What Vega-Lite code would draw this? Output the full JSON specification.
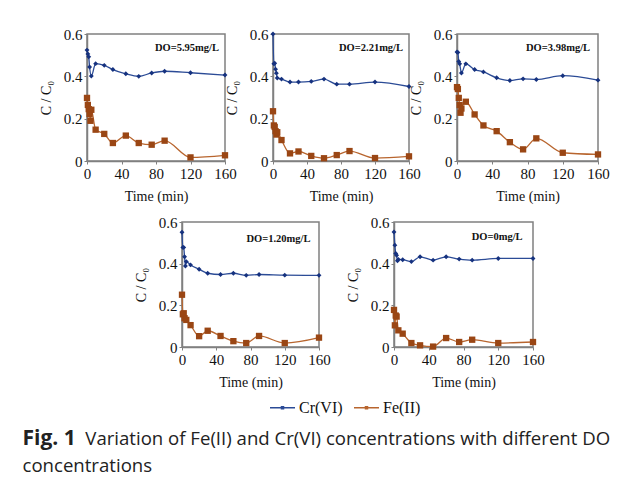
{
  "$schema": "https://vega.github.io/schema/vega-lite/v6.json",
  "background": "white",
  "padding": {"left": 22, "top": 26, "right": 5, "bottom": 5},
  "datasets": {
    "d": [
      {"p": 1, "s": "Cr(VI)", "t": 0, "c": 0.524},
      {"p": 1, "s": "Cr(VI)", "t": 1, "c": 0.506},
      {"p": 1, "s": "Cr(VI)", "t": 2, "c": 0.492},
      {"p": 1, "s": "Cr(VI)", "t": 3, "c": 0.444},
      {"p": 1, "s": "Cr(VI)", "t": 5, "c": 0.401},
      {"p": 1, "s": "Cr(VI)", "t": 10, "c": 0.46},
      {"p": 1, "s": "Cr(VI)", "t": 20, "c": 0.452},
      {"p": 1, "s": "Cr(VI)", "t": 30, "c": 0.432},
      {"p": 1, "s": "Cr(VI)", "t": 45, "c": 0.412},
      {"p": 1, "s": "Cr(VI)", "t": 60, "c": 0.4},
      {"p": 1, "s": "Cr(VI)", "t": 75, "c": 0.416},
      {"p": 1, "s": "Cr(VI)", "t": 90, "c": 0.424},
      {"p": 1, "s": "Cr(VI)", "t": 120, "c": 0.417},
      {"p": 1, "s": "Cr(VI)", "t": 160, "c": 0.406},
      {"p": 1, "s": "Fe(II)", "t": 0, "c": 0.298},
      {"p": 1, "s": "Fe(II)", "t": 1, "c": 0.265},
      {"p": 1, "s": "Fe(II)", "t": 2, "c": 0.245},
      {"p": 1, "s": "Fe(II)", "t": 3, "c": 0.222},
      {"p": 1, "s": "Fe(II)", "t": 4, "c": 0.19},
      {"p": 1, "s": "Fe(II)", "t": 5, "c": 0.242},
      {"p": 1, "s": "Fe(II)", "t": 10, "c": 0.148},
      {"p": 1, "s": "Fe(II)", "t": 20, "c": 0.128},
      {"p": 1, "s": "Fe(II)", "t": 30, "c": 0.085},
      {"p": 1, "s": "Fe(II)", "t": 45, "c": 0.12},
      {"p": 1, "s": "Fe(II)", "t": 60, "c": 0.085},
      {"p": 1, "s": "Fe(II)", "t": 75, "c": 0.077},
      {"p": 1, "s": "Fe(II)", "t": 90, "c": 0.096},
      {"p": 1, "s": "Fe(II)", "t": 120, "c": 0.017},
      {"p": 1, "s": "Fe(II)", "t": 160, "c": 0.027},

      {"p": 2, "s": "Cr(VI)", "t": 0, "c": 0.6},
      {"p": 2, "s": "Cr(VI)", "t": 1, "c": 0.459},
      {"p": 2, "s": "Cr(VI)", "t": 2, "c": 0.462},
      {"p": 2, "s": "Cr(VI)", "t": 3, "c": 0.434},
      {"p": 2, "s": "Cr(VI)", "t": 4, "c": 0.415},
      {"p": 2, "s": "Cr(VI)", "t": 5, "c": 0.392},
      {"p": 2, "s": "Cr(VI)", "t": 10, "c": 0.387},
      {"p": 2, "s": "Cr(VI)", "t": 20, "c": 0.373},
      {"p": 2, "s": "Cr(VI)", "t": 30, "c": 0.373},
      {"p": 2, "s": "Cr(VI)", "t": 45, "c": 0.376},
      {"p": 2, "s": "Cr(VI)", "t": 60, "c": 0.387},
      {"p": 2, "s": "Cr(VI)", "t": 75, "c": 0.363},
      {"p": 2, "s": "Cr(VI)", "t": 90, "c": 0.363},
      {"p": 2, "s": "Cr(VI)", "t": 120, "c": 0.373},
      {"p": 2, "s": "Cr(VI)", "t": 160, "c": 0.352},
      {"p": 2, "s": "Fe(II)", "t": 0, "c": 0.235},
      {"p": 2, "s": "Fe(II)", "t": 1, "c": 0.168},
      {"p": 2, "s": "Fe(II)", "t": 2, "c": 0.161},
      {"p": 2, "s": "Fe(II)", "t": 3, "c": 0.141},
      {"p": 2, "s": "Fe(II)", "t": 4, "c": 0.125},
      {"p": 2, "s": "Fe(II)", "t": 5, "c": 0.136},
      {"p": 2, "s": "Fe(II)", "t": 10, "c": 0.099},
      {"p": 2, "s": "Fe(II)", "t": 20, "c": 0.036},
      {"p": 2, "s": "Fe(II)", "t": 30, "c": 0.045},
      {"p": 2, "s": "Fe(II)", "t": 45, "c": 0.024},
      {"p": 2, "s": "Fe(II)", "t": 60, "c": 0.013},
      {"p": 2, "s": "Fe(II)", "t": 75, "c": 0.028},
      {"p": 2, "s": "Fe(II)", "t": 90, "c": 0.047},
      {"p": 2, "s": "Fe(II)", "t": 120, "c": 0.014},
      {"p": 2, "s": "Fe(II)", "t": 160, "c": 0.022},

      {"p": 3, "s": "Cr(VI)", "t": 0, "c": 0.515},
      {"p": 3, "s": "Cr(VI)", "t": 1, "c": 0.513},
      {"p": 3, "s": "Cr(VI)", "t": 2, "c": 0.47},
      {"p": 3, "s": "Cr(VI)", "t": 3, "c": 0.459},
      {"p": 3, "s": "Cr(VI)", "t": 5, "c": 0.416},
      {"p": 3, "s": "Cr(VI)", "t": 10, "c": 0.459},
      {"p": 3, "s": "Cr(VI)", "t": 20, "c": 0.432},
      {"p": 3, "s": "Cr(VI)", "t": 30, "c": 0.421},
      {"p": 3, "s": "Cr(VI)", "t": 45, "c": 0.393},
      {"p": 3, "s": "Cr(VI)", "t": 60, "c": 0.38},
      {"p": 3, "s": "Cr(VI)", "t": 75, "c": 0.388},
      {"p": 3, "s": "Cr(VI)", "t": 90, "c": 0.385},
      {"p": 3, "s": "Cr(VI)", "t": 120, "c": 0.403},
      {"p": 3, "s": "Cr(VI)", "t": 160, "c": 0.382},
      {"p": 3, "s": "Fe(II)", "t": 0, "c": 0.349},
      {"p": 3, "s": "Fe(II)", "t": 1, "c": 0.34},
      {"p": 3, "s": "Fe(II)", "t": 2, "c": 0.298},
      {"p": 3, "s": "Fe(II)", "t": 3, "c": 0.264},
      {"p": 3, "s": "Fe(II)", "t": 4, "c": 0.228},
      {"p": 3, "s": "Fe(II)", "t": 5, "c": 0.248},
      {"p": 3, "s": "Fe(II)", "t": 10, "c": 0.28},
      {"p": 3, "s": "Fe(II)", "t": 20, "c": 0.22},
      {"p": 3, "s": "Fe(II)", "t": 30, "c": 0.168},
      {"p": 3, "s": "Fe(II)", "t": 45, "c": 0.141},
      {"p": 3, "s": "Fe(II)", "t": 60, "c": 0.089},
      {"p": 3, "s": "Fe(II)", "t": 75, "c": 0.055},
      {"p": 3, "s": "Fe(II)", "t": 90, "c": 0.107},
      {"p": 3, "s": "Fe(II)", "t": 120, "c": 0.039},
      {"p": 3, "s": "Fe(II)", "t": 160, "c": 0.031},

      {"p": 4, "s": "Cr(VI)", "t": 0, "c": 0.551},
      {"p": 4, "s": "Cr(VI)", "t": 1, "c": 0.478},
      {"p": 4, "s": "Cr(VI)", "t": 2, "c": 0.478},
      {"p": 4, "s": "Cr(VI)", "t": 3, "c": 0.433},
      {"p": 4, "s": "Cr(VI)", "t": 4, "c": 0.389},
      {"p": 4, "s": "Cr(VI)", "t": 5, "c": 0.41},
      {"p": 4, "s": "Cr(VI)", "t": 10, "c": 0.394},
      {"p": 4, "s": "Cr(VI)", "t": 20, "c": 0.373},
      {"p": 4, "s": "Cr(VI)", "t": 30, "c": 0.354},
      {"p": 4, "s": "Cr(VI)", "t": 45, "c": 0.348},
      {"p": 4, "s": "Cr(VI)", "t": 60, "c": 0.354},
      {"p": 4, "s": "Cr(VI)", "t": 75, "c": 0.344},
      {"p": 4, "s": "Cr(VI)", "t": 90, "c": 0.348},
      {"p": 4, "s": "Cr(VI)", "t": 120, "c": 0.345},
      {"p": 4, "s": "Cr(VI)", "t": 160, "c": 0.344},
      {"p": 4, "s": "Fe(II)", "t": 0, "c": 0.251},
      {"p": 4, "s": "Fe(II)", "t": 1, "c": 0.157},
      {"p": 4, "s": "Fe(II)", "t": 2, "c": 0.162},
      {"p": 4, "s": "Fe(II)", "t": 3, "c": 0.138},
      {"p": 4, "s": "Fe(II)", "t": 5, "c": 0.13},
      {"p": 4, "s": "Fe(II)", "t": 10, "c": 0.105},
      {"p": 4, "s": "Fe(II)", "t": 20, "c": 0.052},
      {"p": 4, "s": "Fe(II)", "t": 30, "c": 0.078},
      {"p": 4, "s": "Fe(II)", "t": 45, "c": 0.053},
      {"p": 4, "s": "Fe(II)", "t": 60, "c": 0.028},
      {"p": 4, "s": "Fe(II)", "t": 75, "c": 0.019},
      {"p": 4, "s": "Fe(II)", "t": 90, "c": 0.053},
      {"p": 4, "s": "Fe(II)", "t": 120, "c": 0.019},
      {"p": 4, "s": "Fe(II)", "t": 160, "c": 0.045},

      {"p": 5, "s": "Cr(VI)", "t": 0, "c": 0.552},
      {"p": 5, "s": "Cr(VI)", "t": 1, "c": 0.489},
      {"p": 5, "s": "Cr(VI)", "t": 2, "c": 0.449},
      {"p": 5, "s": "Cr(VI)", "t": 3, "c": 0.44},
      {"p": 5, "s": "Cr(VI)", "t": 4, "c": 0.414},
      {"p": 5, "s": "Cr(VI)", "t": 5, "c": 0.42},
      {"p": 5, "s": "Cr(VI)", "t": 10, "c": 0.419},
      {"p": 5, "s": "Cr(VI)", "t": 20, "c": 0.41},
      {"p": 5, "s": "Cr(VI)", "t": 30, "c": 0.433},
      {"p": 5, "s": "Cr(VI)", "t": 45, "c": 0.417},
      {"p": 5, "s": "Cr(VI)", "t": 60, "c": 0.433},
      {"p": 5, "s": "Cr(VI)", "t": 75, "c": 0.422},
      {"p": 5, "s": "Cr(VI)", "t": 90, "c": 0.417},
      {"p": 5, "s": "Cr(VI)", "t": 120, "c": 0.425},
      {"p": 5, "s": "Cr(VI)", "t": 160, "c": 0.425},
      {"p": 5, "s": "Fe(II)", "t": 0, "c": 0.178},
      {"p": 5, "s": "Fe(II)", "t": 1, "c": 0.104},
      {"p": 5, "s": "Fe(II)", "t": 2, "c": 0.151},
      {"p": 5, "s": "Fe(II)", "t": 3, "c": 0.146},
      {"p": 5, "s": "Fe(II)", "t": 5, "c": 0.08},
      {"p": 5, "s": "Fe(II)", "t": 10, "c": 0.064},
      {"p": 5, "s": "Fe(II)", "t": 20, "c": 0.019},
      {"p": 5, "s": "Fe(II)", "t": 30, "c": 0.008},
      {"p": 5, "s": "Fe(II)", "t": 45, "c": 0.002},
      {"p": 5, "s": "Fe(II)", "t": 60, "c": 0.043},
      {"p": 5, "s": "Fe(II)", "t": 75, "c": 0.024},
      {"p": 5, "s": "Fe(II)", "t": 90, "c": 0.035},
      {"p": 5, "s": "Fe(II)", "t": 120, "c": 0.019},
      {"p": 5, "s": "Fe(II)", "t": 160, "c": 0.024}
    ]
  },
  "title": {
    "text": "Fig. 1",
    "orient": "bottom",
    "anchor": "start",
    "frame": "bounds",
    "dx": -16,
    "offset": 12,
    "font": "Open Sans",
    "fontSize": 21,
    "fontWeight": "bold",
    "color": "#222222",
    "subtitle": ["\u200b\u00a0\u00a0\u00a0\u00a0\u00a0\u00a0\u00a0\u00a0\u00a0\u00a0\u00a0\u00a0\u00a0Variation of Fe(II) and Cr(VI) concentrations with different DO", "concentrations"],
    "subtitleFont": "Open Sans",
    "subtitleFontSize": 18.6,
    "subtitleColor": "#222222",
    "subtitlePadding": -19,
    "subtitleLineHeight": 27
  },
  "vconcat": [
    {
      "bounds": "flush",
      "spacing": 48,
      "hconcat": [
        {
          "width": 138, "height": 127,
          "data": {"name": "d"},
          "transform": [{"filter": "datum.p == 1"}],
          "encoding": {
            "x": {"field": "t", "type": "quantitative", "scale": {"domain": [0, 160]}, "axis": {"values": [0, 40, 80, 120, 160], "labelOverlap": false, "title": "Time (min)"}},
            "y": {"field": "c", "type": "quantitative", "scale": {"domain": [0, 0.6]}, "axis": {"values": [0, 0.2, 0.4, 0.6], "labelOverlap": false, "labelExpr": "datum.value == 0 ? '0' : format(datum.value, '.1f')", "title": "C / C\u2080"}}
          },
          "layer": [
            {"mark": {"type": "line", "interpolate": "monotone", "strokeWidth": 1.3},
             "encoding": {"color": {"field": "s", "type": "nominal", "scale": {"domain": ["Cr(VI)", "Fe(II)"], "range": ["#2b4b96", "#b8652e"]}, "legend": {"title": null}}}},
            {"transform": [{"filter": "datum.s == 'Cr(VI)'"}],
             "mark": {"type": "point", "filled": true, "opacity": 1, "shape": "diamond", "size": 24, "color": "#16327f"}},
            {"transform": [{"filter": "datum.s == 'Fe(II)'"}],
             "mark": {"type": "point", "filled": true, "opacity": 1, "shape": "square", "size": 40, "color": "#9a4614"}},
            {"data": {"values": [{"t": 153, "c": 0.535}]},
             "mark": {"type": "text", "align": "right", "baseline": "middle", "font": "Liberation Serif", "fontSize": 10.5, "fontWeight": "bold", "color": "#111111"},
             "encoding": {"text": {"value": "DO=5.95mg/L"}}}
          ]
        },
        {
          "width": 136, "height": 127,
          "data": {"name": "d"},
          "transform": [{"filter": "datum.p == 2"}],
          "encoding": {
            "x": {"field": "t", "type": "quantitative", "scale": {"domain": [0, 160]}, "axis": {"values": [0, 40, 80, 120, 160], "labelOverlap": false, "title": "Time (min)"}},
            "y": {"field": "c", "type": "quantitative", "scale": {"domain": [0, 0.6]}, "axis": {"values": [0, 0.2, 0.4, 0.6], "labelOverlap": false, "labelExpr": "datum.value == 0 ? '0' : format(datum.value, '.1f')", "title": "C / C\u2080"}}
          },
          "layer": [
            {"mark": {"type": "line", "interpolate": "monotone", "strokeWidth": 1.3},
             "encoding": {"color": {"field": "s", "type": "nominal", "legend": {"title": null}}}},
            {"transform": [{"filter": "datum.s == 'Cr(VI)'"}],
             "mark": {"type": "point", "filled": true, "opacity": 1, "shape": "diamond", "size": 24, "color": "#16327f"}},
            {"transform": [{"filter": "datum.s == 'Fe(II)'"}],
             "mark": {"type": "point", "filled": true, "opacity": 1, "shape": "square", "size": 40, "color": "#9a4614"}},
            {"data": {"values": [{"t": 153, "c": 0.535}]},
             "mark": {"type": "text", "align": "right", "baseline": "middle", "font": "Liberation Serif", "fontSize": 10.5, "fontWeight": "bold", "color": "#111111"},
             "encoding": {"text": {"value": "DO=2.21mg/L"}}}
          ]
        },
        {
          "width": 141, "height": 127,
          "data": {"name": "d"},
          "transform": [{"filter": "datum.p == 3"}],
          "encoding": {
            "x": {"field": "t", "type": "quantitative", "scale": {"domain": [0, 160]}, "axis": {"values": [0, 40, 80, 120, 160], "labelOverlap": false, "title": "Time (min)"}},
            "y": {"field": "c", "type": "quantitative", "scale": {"domain": [0, 0.6]}, "axis": {"values": [0, 0.2, 0.4, 0.6], "labelOverlap": false, "labelExpr": "datum.value == 0 ? '0' : format(datum.value, '.1f')", "title": "C / C\u2080"}}
          },
          "layer": [
            {"mark": {"type": "line", "interpolate": "monotone", "strokeWidth": 1.3},
             "encoding": {"color": {"field": "s", "type": "nominal", "legend": {"title": null}}}},
            {"transform": [{"filter": "datum.s == 'Cr(VI)'"}],
             "mark": {"type": "point", "filled": true, "opacity": 1, "shape": "diamond", "size": 24, "color": "#16327f"}},
            {"transform": [{"filter": "datum.s == 'Fe(II)'"}],
             "mark": {"type": "point", "filled": true, "opacity": 1, "shape": "square", "size": 40, "color": "#9a4614"}},
            {"data": {"values": [{"t": 151, "c": 0.535}]},
             "mark": {"type": "text", "align": "right", "baseline": "middle", "font": "Liberation Serif", "fontSize": 10.5, "fontWeight": "bold", "color": "#111111"},
             "encoding": {"text": {"value": "DO=3.98mg/L"}}}
          ]
        }
      ]
    },
    {
      "bounds": "flush",
      "spacing": 75,
      "hconcat": [
        {
          "width": 20, "height": 125,
          "data": {"values": [{}]},
          "mark": {"type": "text"},
          "encoding": {"text": {"value": ""}},
          "view": {"stroke": null}
        },
        {
          "width": 137, "height": 125,
          "data": {"name": "d"},
          "transform": [{"filter": "datum.p == 4"}],
          "encoding": {
            "x": {"field": "t", "type": "quantitative", "scale": {"domain": [0, 160]}, "axis": {"values": [0, 40, 80, 120, 160], "labelOverlap": false, "title": "Time (min)"}},
            "y": {"field": "c", "type": "quantitative", "scale": {"domain": [0, 0.6]}, "axis": {"values": [0, 0.2, 0.4, 0.6], "labelOverlap": false, "labelExpr": "datum.value == 0 ? '0' : format(datum.value, '.1f')", "title": "C / C\u2080"}}
          },
          "layer": [
            {"mark": {"type": "line", "interpolate": "monotone", "strokeWidth": 1.3},
             "encoding": {"color": {"field": "s", "type": "nominal", "legend": {"title": null}}}},
            {"transform": [{"filter": "datum.s == 'Cr(VI)'"}],
             "mark": {"type": "point", "filled": true, "opacity": 1, "shape": "diamond", "size": 24, "color": "#16327f"}},
            {"transform": [{"filter": "datum.s == 'Fe(II)'"}],
             "mark": {"type": "point", "filled": true, "opacity": 1, "shape": "square", "size": 40, "color": "#9a4614"}},
            {"data": {"values": [{"t": 150, "c": 0.52}]},
             "mark": {"type": "text", "align": "right", "baseline": "middle", "font": "Liberation Serif", "fontSize": 10.5, "fontWeight": "bold", "color": "#111111"},
             "encoding": {"text": {"value": "DO=1.20mg/L"}}}
          ]
        },
        {
          "width": 139, "height": 125,
          "data": {"name": "d"},
          "transform": [{"filter": "datum.p == 5"}],
          "encoding": {
            "x": {"field": "t", "type": "quantitative", "scale": {"domain": [0, 160]}, "axis": {"values": [0, 40, 80, 120, 160], "labelOverlap": false, "title": "Time (min)"}},
            "y": {"field": "c", "type": "quantitative", "scale": {"domain": [0, 0.6]}, "axis": {"values": [0, 0.2, 0.4, 0.6], "labelOverlap": false, "labelExpr": "datum.value == 0 ? '0' : format(datum.value, '.1f')", "title": "C / C\u2080"}}
          },
          "layer": [
            {"mark": {"type": "line", "interpolate": "monotone", "strokeWidth": 1.3},
             "encoding": {"color": {"field": "s", "type": "nominal", "legend": {"title": null}}}},
            {"transform": [{"filter": "datum.s == 'Cr(VI)'"}],
             "mark": {"type": "point", "filled": true, "opacity": 1, "shape": "diamond", "size": 24, "color": "#16327f"}},
            {"transform": [{"filter": "datum.s == 'Fe(II)'"}],
             "mark": {"type": "point", "filled": true, "opacity": 1, "shape": "square", "size": 40, "color": "#9a4614"}},
            {"data": {"values": [{"t": 148, "c": 0.53}]},
             "mark": {"type": "text", "align": "right", "baseline": "middle", "font": "Liberation Serif", "fontSize": 10.5, "fontWeight": "bold", "color": "#111111"},
             "encoding": {"text": {"value": "DO=0mg/L"}}}
          ]
        }
      ]
    }
  ],
  "spacing": 10,
  "config": {
    "font": "Liberation Serif",
    "view": {"stroke": "#808080", "strokeWidth": 1.5},
    "axis": {
      "grid": false,
      "domainColor": "#808080",
      "domainWidth": 1.5,
      "tickColor": "#808080",
      "tickSize": 3,
      "labelFont": "Liberation Serif",
      "labelFontSize": 15,
      "labelColor": "#111111",
      "labelPadding": 2,
      "labelOverlap": false,
      "titleFont": "Liberation Serif",
      "titleFontSize": 14,
      "titleFontWeight": "normal",
      "titleColor": "#111111"
    },
    "axisX": {"titlePadding": 8, "labelFlush": false, "labelOverlap": false},
    "axisY": {"titlePadding": 10},
    "legend": {
      "orient": "none",
      "legendX": 182,
      "legendY": 360,
      "direction": "horizontal",
      "labelFont": "Liberation Serif",
      "labelFontSize": 16,
      "labelColor": "#111111",
      "symbolType": "M-1,0H1M-0.08,-0.08H0.08V0.08H-0.08Z",
      "symbolSize": 625,
      "symbolStrokeWidth": 1.5,
      "columnPadding": 8,
      "labelOffset": 3
    }
  }
}
